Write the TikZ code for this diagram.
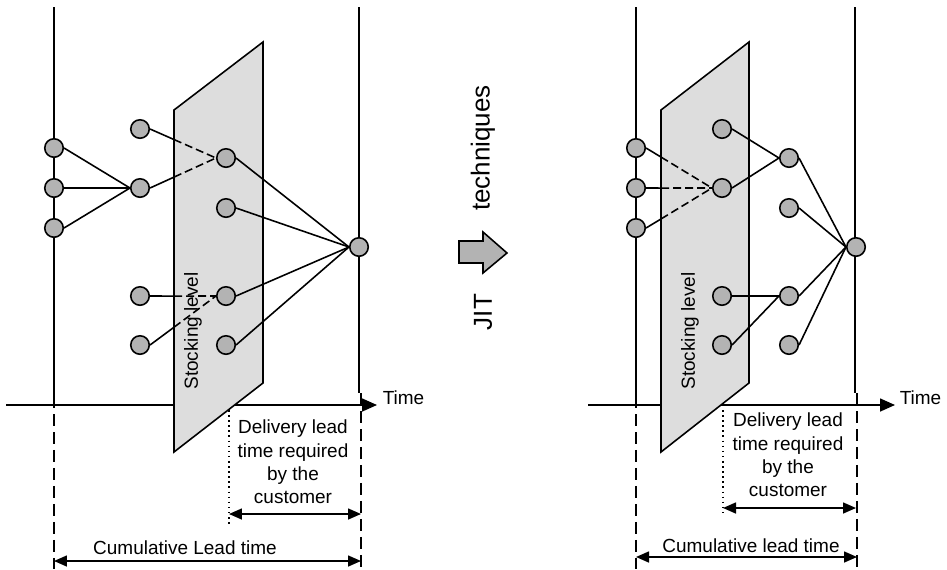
\documentclass[tikz,border=0pt]{standalone}
\usepackage{fontspec}
\setmainfont{Liberation Sans}
\usepackage{tikz}
\usepackage{xcolor}
\usetikzlibrary{arrows.meta}
\definecolor{stockgray}{HTML}{DDDDDD}
\definecolor{dotgray}{HTML}{B3B3B3}

\begin{document}
\begin{tikzpicture}[x=0.02cm, y=-0.02cm, line width=0.9pt,
  font=\fontsize{10.8pt}{13.3pt}\selectfont,
  item/.style={circle, draw, fill=dotgray, minimum size=0.37cm, inner sep=0pt},
  stock/.style={draw, fill=stockgray, line join=miter},
  vdash/.style={line width=1.3pt, dash pattern=on 0.24cm off 0.12cm},
  edash/.style={dash pattern=on 0.16cm off 0.08cm},
  timeaxis/.style={-{Triangle[length=0.3cm, width=0.26cm]}},
  lead/.style={{Triangle[length=0.26cm, width=0.22cm]}-{Triangle[length=0.26cm, width=0.22cm]}},
  big/.style={font=\fontsize{14.8pt}{18pt}\selectfont}]
  \useasboundingbox (0,0) rectangle (947,569);

  \draw[timeaxis] (6,405) -- (377,405);
  \node[anchor=west, inner sep=0pt] (ltime) at (382,398) {Time};
  \draw (54,7) -- (54,396);   \draw[vdash] (54,396) -- (54,569);
  \draw (359,7) -- (359,393); \draw[vdash] (361,393) -- (361,569);
  \coordinate (lsa) at (174,110); \coordinate (lsb) at (263,42);
  \coordinate (lsc) at (263,383); \coordinate (lsd) at (174,452);
  \draw[stock] (lsa) -- (lsb) -- (lsc) -- (lsd) -- cycle;

  \node[item] (la1) at (54,148) {};
  \node[item] (la2) at (54,188) {};
  \node[item] (la3) at (54,228) {};
  \node[item] (lb1) at (140,129) {};
  \node[item] (lb2) at (140,188) {};
  \node[item] (lb3) at (140,296) {};
  \node[item] (lb4) at (140,345) {};
  \node[item] (lc1) at (226,158) {};
  \node[item] (lc2) at (226,208) {};
  \node[item] (lc3) at (226,296) {};
  \node[item] (lc4) at (226,345) {};
  \node[item] (ld) at (359,247) {};

  \draw (la1.east) -- (lb2.west);
  \draw (la2.east) -- (lb2.west);
  \draw (la3.east) -- (lb2.west);
  \coordinate (lx1) at (intersection of lb1.east--lc1.west and lsa--lsd);
  \coordinate (lx2) at (intersection of lb2.east--lc1.west and lsa--lsd);
  \coordinate (lx3) at (intersection of lb3.east--lc3.west and lsa--lsd);
  \coordinate (lx4) at (intersection of lb4.east--lc3.west and lsa--lsd);
  \draw (lb1.east) -- (lx1); \draw[edash] (lx1) -- (lc1.west);
  \draw (lb2.east) -- (lx2); \draw[edash] (lx2) -- (lc1.west);
  \draw (lb3.east) -- (lx3); \draw[edash] (lx3) -- (lc3.west);
  \draw (lb4.east) -- (lx4); \draw[edash] (lx4) -- (lc3.west);
  \draw (lc1.east) -- (ld.west);
  \draw (lc2.east) -- (ld.west);
  \draw (lc3.east) -- (ld.west);
  \draw (lc4.east) -- (ld.west);
  \node[rotate=90] (lstock) at (193,331) {Stocking level};

  \draw[dotted] (229,410) -- (229,525);
  \node[align=center] (ldel) at (293,462) {Delivery lead\\time required\\by the\\customer};
  \draw[lead] (229,514) -- (361,514);
  \node (lcum) at (185,548) {Cumulative Lead time};
  \draw[lead] (54,561) -- (361,561);

  \draw[fill=dotgray] (459,241) -- (483,241) -- (483,232) -- (507,253) -- (483,273) -- (483,263) -- (459,263) -- cycle;
  \node[big, rotate=90] (tech) at (483,148) {techniques};
  \node[big, rotate=90] (jit) at (483,312) {JIT};

  \draw[timeaxis] (588,405) -- (895,405);
  \node[anchor=west, inner sep=0pt] (rtime) at (899,398) {Time};
  \draw (636,7) -- (636,396); \draw[vdash] (636,396) -- (636,569);
  \draw (855,7) -- (855,393); \draw[vdash] (857,393) -- (857,569);
  \coordinate (rsa) at (661,110); \coordinate (rsb) at (749,42);
  \coordinate (rsc) at (749,383); \coordinate (rsd) at (661,452);
  \draw[stock] (rsa) -- (rsb) -- (rsc) -- (rsd) -- cycle;

  \node[item] (ra1) at (636,148) {};
  \node[item] (ra2) at (636,188) {};
  \node[item] (ra3) at (636,228) {};
  \node[item] (rb1) at (722,129) {};
  \node[item] (rb2) at (722,188) {};
  \node[item] (rb3) at (722,296) {};
  \node[item] (rb4) at (722,345) {};
  \node[item] (rc1) at (789,158) {};
  \node[item] (rc2) at (789,208) {};
  \node[item] (rc3) at (789,296) {};
  \node[item] (rc4) at (789,345) {};
  \node[item] (rd) at (856,247) {};

  \coordinate (rx1) at (intersection of ra1.east--rb2.west and rsa--rsd);
  \coordinate (rx2) at (intersection of ra2.east--rb2.west and rsa--rsd);
  \coordinate (rx3) at (intersection of ra3.east--rb2.west and rsa--rsd);
  \draw (ra1.east) -- (rx1); \draw[edash] (rx1) -- (rb2.west);
  \draw (ra2.east) -- (rx2); \draw[edash] (rx2) -- (rb2.west);
  \draw (ra3.east) -- (rx3); \draw[edash] (rx3) -- (rb2.west);
  \draw (rb1.east) -- (rc1.west);
  \draw (rb2.east) -- (rc1.west);
  \draw (rb3.east) -- (rc3.west);
  \draw (rb4.east) -- (rc3.west);
  \draw (rc1.east) -- (rd.west);
  \draw (rc2.east) -- (rd.west);
  \draw (rc3.east) -- (rd.west);
  \draw (rc4.east) -- (rd.west);
  \node[rotate=90] (rstock) at (690,331) {Stocking level};

  \draw[dotted] (723,410) -- (723,515);
  \node[align=center] (rdel) at (788,455) {Delivery lead\\time required\\by the\\customer};
  \draw[lead] (723,508) -- (856,508);
  \node (rcum) at (751,546) {Cumulative lead time};
  \draw[lead] (636,557) -- (857,557);
\end{tikzpicture}
\end{document}
